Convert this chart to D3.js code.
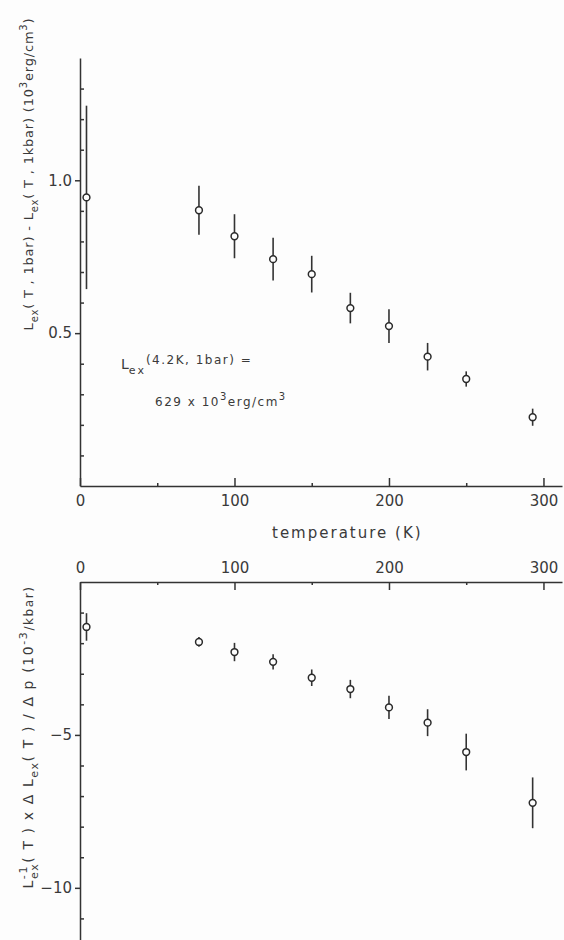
<!DOCTYPE html>
<html>
<head>
<meta charset="utf-8">
<script src="https://cdn.jsdelivr.net/npm/d3@7"></script>
<style>
  body { margin: 0; background: #fdfdfd; }
  svg { display: block; }
  text { font-family: "DejaVu Sans", sans-serif; fill: #3a3a3a; }
  .axis path, .axis line { stroke: #333; stroke-width: 1.5; }
  .axis text { font-size: 15px; }
</style>
</head>
<body>
<div id="chart"></div>
<script>

// temperatures (K) shared by both panels
var temps = [4.2, 77, 100, 125, 150, 175, 200, 225, 250, 293];

// top panel: Lex(T,1bar) - Lex(T,1kbar), 10^3 erg/cm^3
var excessDiff = [0.944, 0.902, 0.817, 0.742, 0.693, 0.582, 0.523, 0.423, 0.350, 0.225];
var excessDiffErr = [0.30, 0.08, 0.072, 0.07, 0.06, 0.05, 0.055, 0.045, 0.025, 0.028];

// bottom panel: relative change per pressure, 10^-3/kbar
var relChange = [-1.47, -1.96, -2.29, -2.61, -3.13, -3.50, -4.10, -4.60, -5.56, -7.22];
var relChangeErr = [0.45, 0.16, 0.30, 0.25, 0.27, 0.30, 0.38, 0.44, 0.60, 0.83];

var xMajorTicks = [0, 100, 200, 300];
var xMinorTicks = [50, 150, 250];
var topMajorTicks = [0.5, 1.0];
var topMinorTicks = [0.1, 0.2, 0.3, 0.4, 0.6, 0.7, 0.8, 0.9, 1.1, 1.2, 1.3];
var bottomMajorTicks = [-5, -10];
var bottomMinorTicks = [-1, -2, -3, -4, -6, -7, -8, -9, -11];

var width = 564, height = 940;

var svg = d3.select("#chart").append("svg")
  .attr("width", width).attr("height", height);

var x = d3.scaleLinear().domain([0, 312]).range([80, 562]);
var yTop = d3.scaleLinear().domain([0, 1.4]).range([486, 58]);
var yBot = d3.scaleLinear().domain([0, -12]).range([582, 949]);


function drawPoints(g, yScale, values, errs) {
  g.selectAll("line.err")
    .data(temps)
    .enter().append("line")
    .attr("class", "err")
    .attr("x1", function(d) { return x(d); })
    .attr("x2", function(d) { return x(d); })
    .attr("y1", function(d, i) { return yScale(values[i] + errs[i]); })
    .attr("y2", function(d, i) { return yScale(values[i] - errs[i]); })
    .attr("stroke", "#333")
    .attr("stroke-width", 1.6);

  g.selectAll("circle.pt")
    .data(temps)
    .enter().append("circle")
    .attr("class", "pt")
    .attr("cx", function(d) { return x(d); })
    .attr("cy", function(d, i) { return yScale(values[i]); })
    .attr("r", 3.4)
    .attr("fill", "#fdfdfd")
    .attr("stroke", "#2a2a2a")
    .attr("stroke-width", 1.5);
}


// ---- top panel ----
var topPanel = svg.append("g");

topPanel.append("g").attr("class", "axis")
  .attr("transform", "translate(0," + yTop(0) + ")")
  .call(d3.axisBottom(x).tickValues(xMajorTicks).tickSize(-8).tickSizeOuter(0).tickPadding(9).tickFormat(d3.format("d")));
topPanel.append("g").attr("class", "axis")
  .attr("transform", "translate(0," + yTop(0) + ")")
  .call(d3.axisBottom(x).tickValues(xMinorTicks).tickSize(-3).tickFormat(""))
  .select(".domain").remove();

topPanel.append("g").attr("class", "axis")
  .attr("transform", "translate(" + x(0) + ",0)")
  .call(d3.axisLeft(yTop).tickValues(topMajorTicks).tickSize(5).tickSizeOuter(0).tickPadding(3).tickFormat(d3.format(".1f")));
topPanel.append("g").attr("class", "axis")
  .attr("transform", "translate(" + x(0) + ",0)")
  .call(d3.axisLeft(yTop).tickValues(topMinorTicks).tickSize(-4).tickFormat(""))
  .select(".domain").remove();

drawPoints(topPanel, yTop, excessDiff, excessDiffErr);

topPanel.append("text")
  .attr("x", 272).attr("y", 538)
  .style("font-size", "15px").style("letter-spacing", "2px")
  .text("temperature (K)");

var note1 = topPanel.append("text").attr("x", 121).attr("y", 369).style("font-size", "14px");
note1.append("tspan").text("L");
note1.append("tspan").attr("dy", 5).style("font-size", "11px").style("letter-spacing", "2px").text("ex");
note1.append("tspan").attr("dy", -10).style("font-size", "12px").style("letter-spacing", "1.5px").text("(4.2K, 1bar) =");

var note2 = topPanel.append("text").attr("x", 155).attr("y", 406).style("font-size", "12px").style("letter-spacing", "1.5px");
note2.append("tspan").text("629 x 10");
note2.append("tspan").attr("dy", -6).style("font-size", "10px").text("3");
note2.append("tspan").attr("dy", 6).text("erg/cm");
note2.append("tspan").attr("dy", -6).style("font-size", "10px").text("3");

var topTitle = topPanel.append("text")
  .attr("transform", "translate(33,174) rotate(-90)")
  .attr("text-anchor", "middle")
  .style("font-size", "13px").style("letter-spacing", "0.8px");
topTitle.append("tspan").text("L");
topTitle.append("tspan").attr("dy", 5).style("font-size", "10px").text("ex");
topTitle.append("tspan").attr("dy", -5).text("( T , 1bar) - L");
topTitle.append("tspan").attr("dy", 5).style("font-size", "10px").text("ex");
topTitle.append("tspan").attr("dy", -5).text("( T , 1kbar) (10");
topTitle.append("tspan").attr("dy", -6).style("font-size", "10px").text("3");
topTitle.append("tspan").attr("dy", 6).text("erg/cm");
topTitle.append("tspan").attr("dy", -6).style("font-size", "10px").text("3");
topTitle.append("tspan").attr("dy", 6).text(")");


// ---- bottom panel ----
var botPanel = svg.append("g");

botPanel.append("g").attr("class", "axis")
  .attr("transform", "translate(0," + yBot(0) + ")")
  .call(d3.axisTop(x).tickValues(xMajorTicks).tickSize(-8).tickSizeOuter(0).tickPadding(9).tickFormat(d3.format("d")));
botPanel.append("g").attr("class", "axis")
  .attr("transform", "translate(0," + yBot(0) + ")")
  .call(d3.axisTop(x).tickValues(xMinorTicks).tickSize(-3).tickFormat(""))
  .select(".domain").remove();

botPanel.append("g").attr("class", "axis")
  .attr("transform", "translate(" + x(0) + ",0)")
  .call(d3.axisLeft(yBot).tickValues(bottomMajorTicks).tickSize(5).tickSizeOuter(0).tickPadding(3).tickFormat(d3.format("d")));
botPanel.append("g").attr("class", "axis")
  .attr("transform", "translate(" + x(0) + ",0)")
  .call(d3.axisLeft(yBot).tickValues(bottomMinorTicks).tickSize(-4).tickFormat(""))
  .select(".domain").remove();

drawPoints(botPanel, yBot, relChange, relChangeErr);

var botTitle = botPanel.append("text")
  .attr("transform", "translate(33,737) rotate(-90)")
  .attr("text-anchor", "middle")
  .style("font-size", "14px").style("letter-spacing", "1.6px");
botTitle.append("tspan").text("L");
botTitle.append("tspan").attr("dy", -6).style("font-size", "11px").text("-1");
botTitle.append("tspan").attr("dx", -14).attr("dy", 11).style("font-size", "11px").text("ex");
botTitle.append("tspan").attr("dy", -5).text("( T ) x \u0394 L");
botTitle.append("tspan").attr("dy", 5).style("font-size", "11px").text("ex");
botTitle.append("tspan").attr("dy", -5).text("( T ) / \u0394 p  (10");
botTitle.append("tspan").attr("dy", -6).style("font-size", "11px").text("-3");
botTitle.append("tspan").attr("dy", 6).style("font-size", "12px").text("/kbar)");

</script>
</body>
</html>
